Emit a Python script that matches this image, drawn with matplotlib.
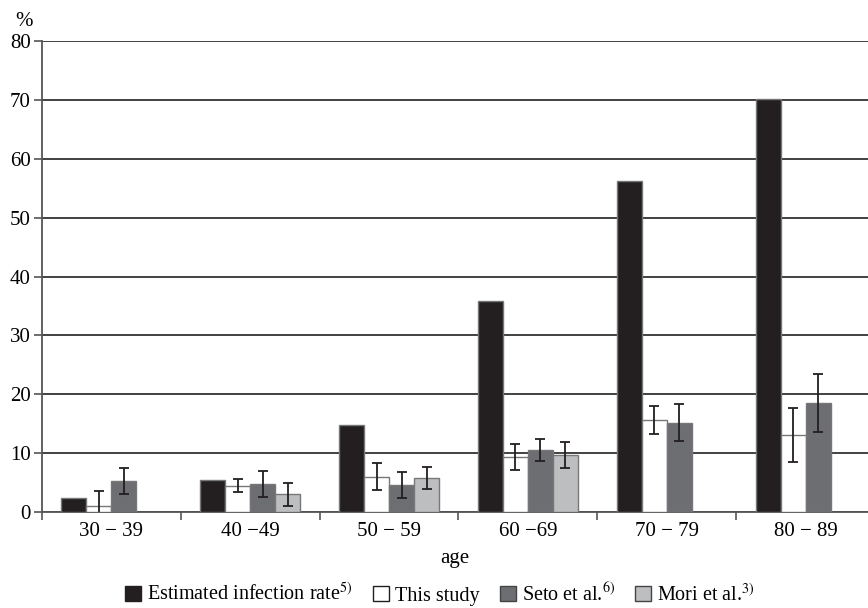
import numpy as np
import matplotlib.pyplot as plt
from matplotlib.patches import Patch

plt.rcParams['font.family'] = ['Liberation Serif', 'DejaVu Serif']
plt.rcParams['mathtext.fontset'] = 'stix'

# data
age_groups = ['30 − 39', '40 −49', '50 − 59', '60 −69', '70 − 79', '80 − 89']
estimated = [2.3, 5.5, 14.8, 35.8, 56.2, 70.2]
this_study = [1.0, 4.5, 6.0, 9.4, 15.6, 13.1]
this_study_err = [2.5, 1.1, 2.3, 2.2, 2.4, 4.6]
seto = [5.3, 4.8, 4.6, 10.5, 15.2, 18.5]
seto_err = [2.2, 2.2, 2.2, 1.9, 3.2, 4.9]
mori = [np.nan, 3.0, 5.8, 9.7, np.nan, np.nan]
mori_err = [np.nan, 2.0, 1.9, 2.2, np.nan, np.nan]

series_names = ['Estimated infection rate$^{5)}$', 'This study',
                'Seto et al.$^{6)}$', 'Mori et al.$^{3)}$']
colors = ['#231f20', '#ffffff', '#6d6e71', '#bcbec0']

fig = plt.figure(figsize=(8.68, 6.08), dpi=100)
ax = fig.add_axes([42 / 868, 1 - 512 / 608, 1 - 42 / 868, (512 - 41) / 608])

x = np.arange(len(age_groups))
w = 0.18
values = [estimated, this_study, seto, mori]
errors = [None, this_study_err, seto_err, mori_err]

for i, (vals, errs) in enumerate(zip(values, errors)):
    vals = np.array(vals, dtype=float)
    ok = ~np.isnan(vals)
    pos = x[ok] + (i - 1.5) * w
    ax.bar(pos, vals[ok], width=w, color=colors[i], edgecolor='#777777',
           linewidth=1.0, zorder=3)
    if errs is not None:
        e = np.array(errs, dtype=float)[ok]
        ax.errorbar(pos, vals[ok], yerr=e, fmt='none', ecolor='#231f20',
                    elinewidth=1.3, capsize=3.5, capthick=1.3, zorder=4)

ax.set_ylim(0, 80)
ax.set_xlim(-0.5, 5.45)
ax.set_yticks(range(0, 81, 10))
ax.yaxis.grid(True, color='#333333', linewidth=1.3, zorder=0)
ax.set_axisbelow(True)

ax.set_xticks(x)
ax.set_xticklabels(age_groups)
ax.set_xticks(np.arange(-0.5, 5.5, 1.0), minor=True)
ax.tick_params(axis='x', which='major', length=0, pad=7, labelsize=15)
ax.tick_params(axis='x', which='minor', length=6, width=1.2, color='#555555')
ax.tick_params(axis='y', length=6, width=1.2, color='#555555', pad=2,
               labelsize=15)

for s in ['top', 'right']:
    ax.spines[s].set_visible(False)
ax.spines['left'].set_color('#555555')
ax.spines['left'].set_linewidth(1.3)
ax.spines['bottom'].set_color('#555555')
ax.spines['bottom'].set_linewidth(1.3)

ax.set_xlabel('age', fontsize=15, labelpad=6)
fig.text(24 / 868, 1 - 22 / 608, '%', fontsize=15, ha='center', va='center')

handles = [Patch(facecolor=colors[0], edgecolor='#231f20'),
           Patch(facecolor=colors[1], edgecolor='#231f20'),
           Patch(facecolor=colors[2], edgecolor='#444444'),
           Patch(facecolor=colors[3], edgecolor='#444444')]
fig.legend(handles, series_names, loc='center', bbox_to_anchor=(0.507, 1 - 594 / 608),
           ncol=4, frameon=False, fontsize=14.5, handlelength=0.8,
           handleheight=0.8, handletextpad=0.3, columnspacing=1.0)

plt.savefig('out.png', dpi=100)
